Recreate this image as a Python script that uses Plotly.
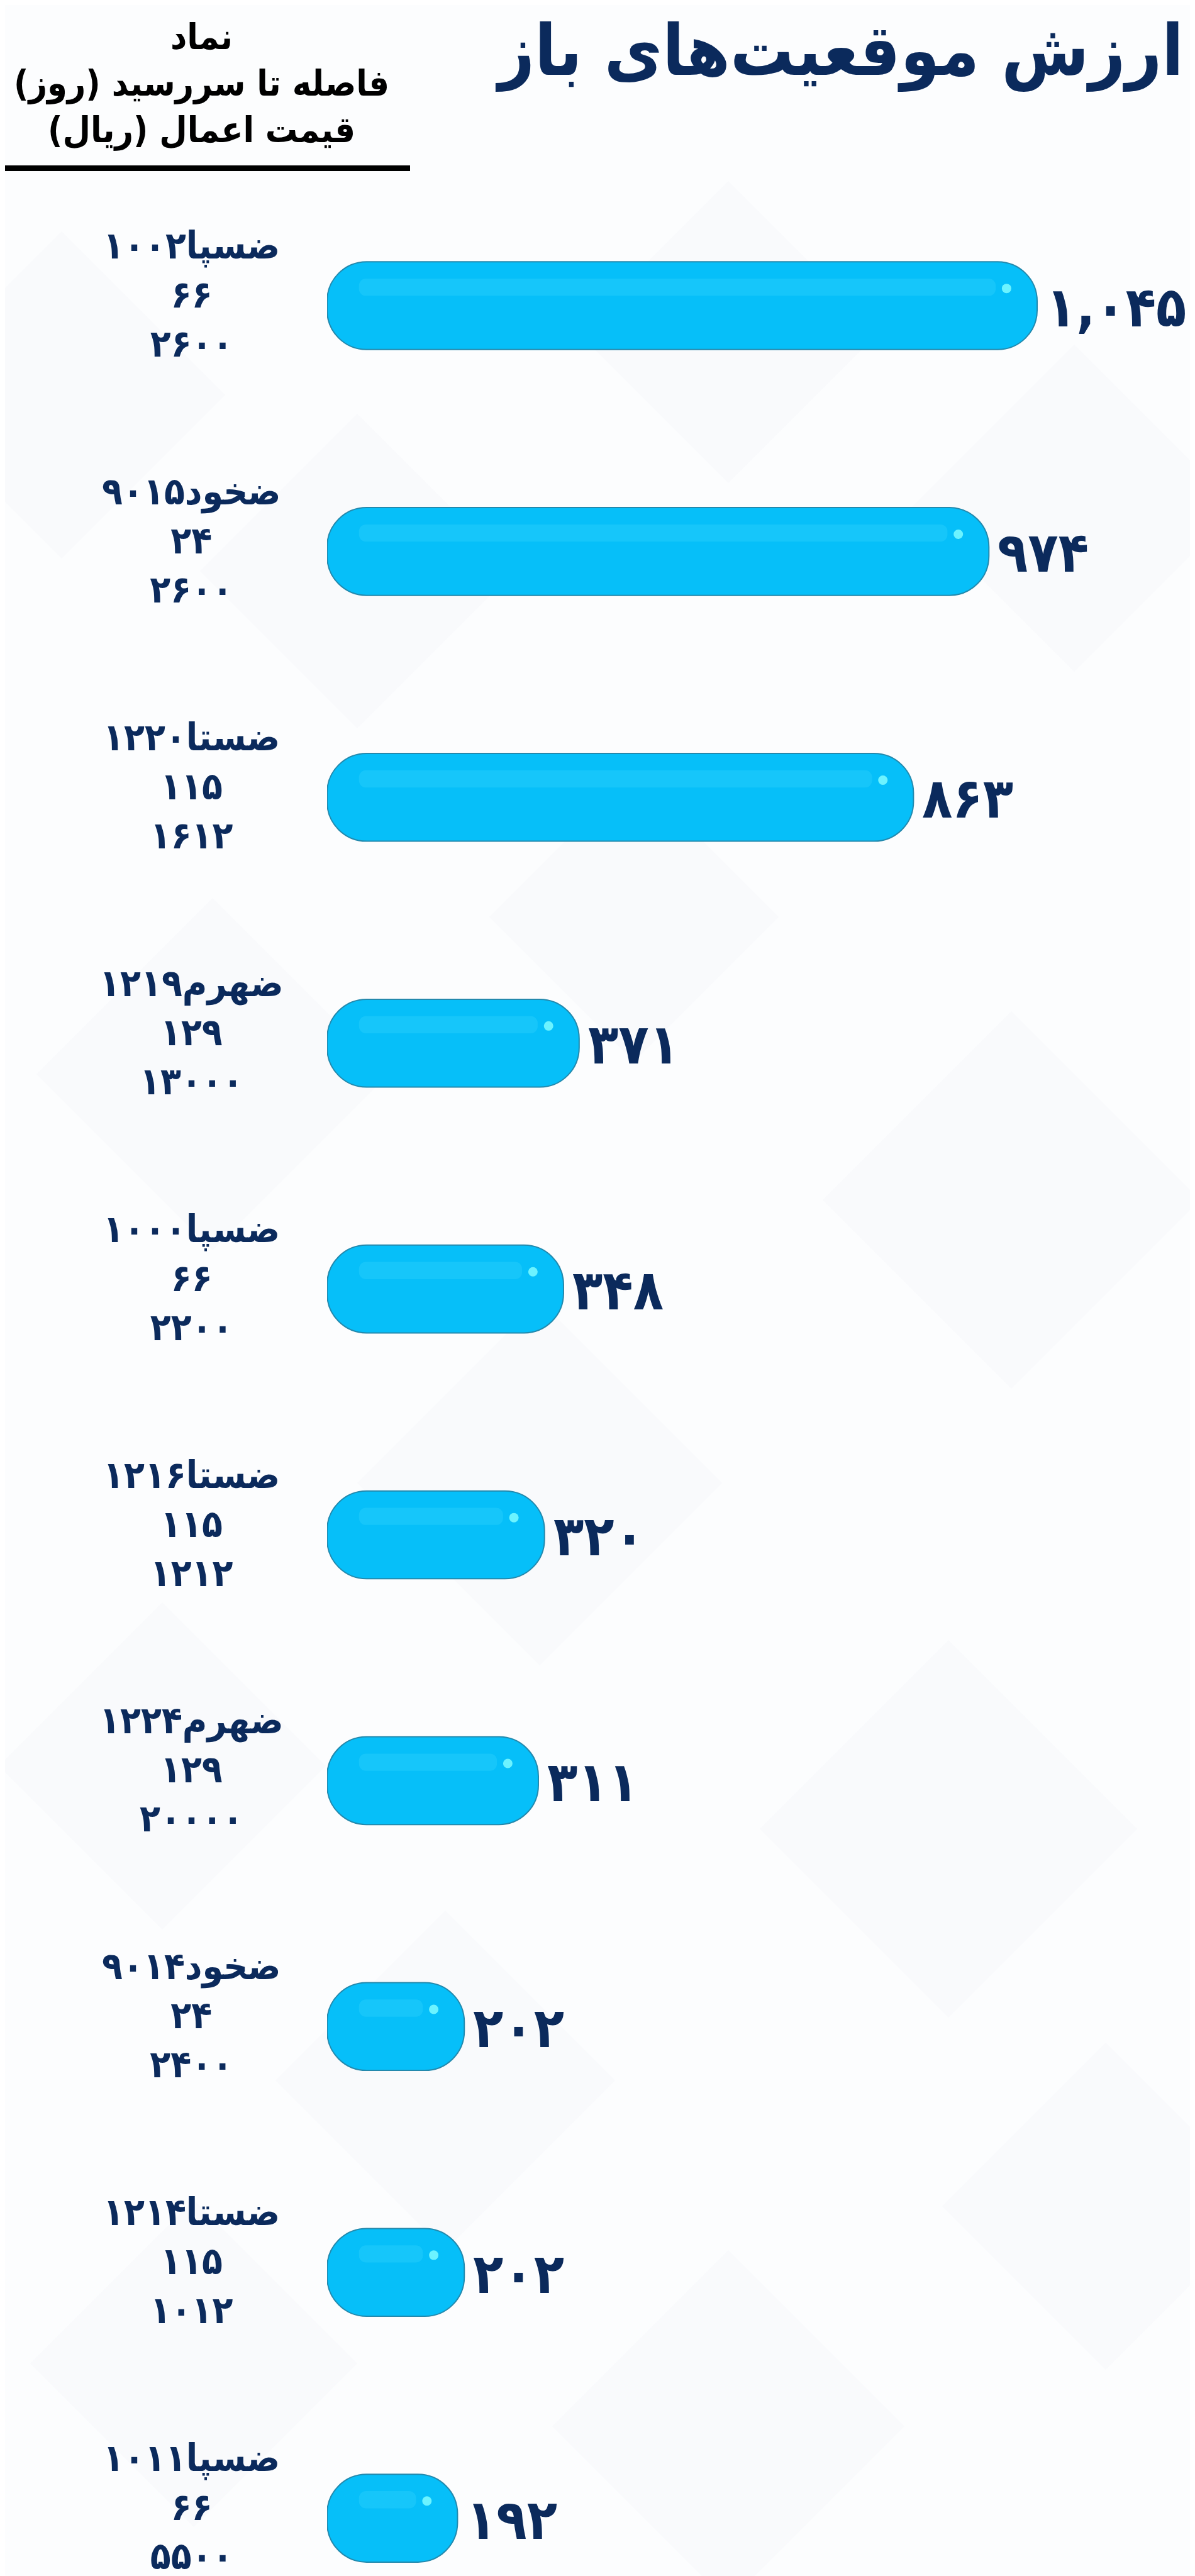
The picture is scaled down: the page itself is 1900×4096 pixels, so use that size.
import plotly.graph_objects as go

# ---------------- data ----------------
tickers = ["ضسپا۱۰۰۲", "ضخود۹۰۱۵", "ضستا۱۲۲۰", "ضهرم۱۲۱۹", "ضسپا۱۰۰۰",
           "ضستا۱۲۱۶", "ضهرم۱۲۲۴", "ضخود۹۰۱۴", "ضستا۱۲۱۴", "ضسپا۱۰۱۱"]
days = ["۶۶", "۲۴", "۱۱۵", "۱۲۹", "۶۶", "۱۱۵", "۱۲۹", "۲۴", "۱۱۵", "۶۶"]
strikes = ["۲۶۰۰", "۲۶۰۰", "۱۶۱۲", "۱۳۰۰۰", "۲۲۰۰", "۱۲۱۲", "۲۰۰۰۰", "۲۴۰۰", "۱۰۱۲", "۵۵۰۰"]
values = [1045, 974, 863, 371, 348, 320, 311, 202, 202, 192]

title_text = "ارزش موقعیت‌های باز"
header_lines = ["نماد", "فاصله تا سررسید (روز)", "قیمت اعمال (ریال)"]

# ---------------- helpers ----------------
FA = str.maketrans("0123456789", "۰۱۲۳۴۵۶۷۸۹")
def fa_num(v):
    return f"{v:,}".translate(FA)

W, H = 1900, 4096
ML = 512
PW = W - ML
PX_PER_UNIT = 1.0804
XMAX = PW / PX_PER_UNIT
SP = 390.9            # px between categories
Y0 = 478              # px centre of first bar
b = -Y0 / SP
a = b + H / SP

NAVY = "#0b2a5c"
FONT = "DejaVu Sans Condensed, DejaVu Sans, sans-serif"
RLM = "\u200f"
BAR_W = 0.357

idx = list(range(len(values)))

fig = go.Figure()
# main pill bars (explicit base -> both ends rounded)
fig.add_trace(go.Bar(
    x=values, y=idx, base=[0] * len(values), orientation="h", width=BAR_W,
    marker=dict(color="#06bff9", line=dict(color="#2389ad", width=2), cornerradius="45%"),
    hoverinfo="skip",
))
# subtle glossy stripe
fig.add_trace(go.Bar(
    x=[v - 47 - 61 for v in values], y=[i - 0.075 for i in idx], base=[47] * len(values),
    orientation="h", width=0.07,
    marker=dict(color="rgba(70,218,255,0.25)", line=dict(width=0), cornerradius="40%"),
    hoverinfo="skip",
))
# highlight spot
fig.add_trace(go.Scatter(
    x=[v - 45 for v in values], y=[i - 0.07 for i in idx], mode="markers",
    marker=dict(size=15, color="rgba(120,248,255,0.9)", line=dict(width=0)),
    hoverinfo="skip",
))

annotations = []
for i in idx:
    annotations.append(dict(
        x=values[i], xref="x", y=i, yref="y", xanchor="left", yanchor="middle",
        xshift=12, yshift=-2, showarrow=False, text=fa_num(values[i]),
        font=dict(family=FONT, size=88, color=NAVY, weight="bold"),
    ))
    annotations.append(dict(
        x=(296 - ML) / PW, xref="paper", y=i, yref="y", yshift=18,
        xanchor="center", yanchor="middle", align="center", showarrow=False,
        text=f"{tickers[i]}<br>{days[i]}<br>{strikes[i]}",
        font=dict(family=FONT, size=60, color=NAVY, weight="bold"),
    ))
annotations.append(dict(
    x=(312 - ML) / PW, xref="paper", y=1 - 124 / H, yref="paper",
    xanchor="center", yanchor="middle", align="center", showarrow=False,
    text="<br>".join(l + RLM for l in header_lines),
    font=dict(family=FONT, size=57, color="#000000", weight="bold"),
))
annotations.append(dict(
    x=(1876 - ML) / PW, xref="paper", y=1 - 72 / H, yref="paper",
    xanchor="right", yanchor="middle", showarrow=False,
    text=title_text,
    font=dict(family=FONT, size=112, color=NAVY, weight="bold"),
))

def px2p(px, py):
    return (px - ML) / PW, 1 - py / H

shapes = [dict(type="rect", xref="paper", yref="paper",
               x0=-ML / PW, x1=(644 - ML) / PW, y0=1 - 264 / H, y1=1 - 255 / H,
               fillcolor="#000000", line=dict(width=0))]

# faint decorative diamonds in background
diamonds = [(90, 620, 260), (560, 900, 250), (1150, 520, 240), (1700, 800, 260),
            (330, 1700, 280), (1000, 1450, 230), (1600, 1900, 300), (850, 2350, 290),
            (250, 2800, 260), (1500, 2900, 300), (700, 3300, 270), (1750, 3500, 260),
            (300, 3750, 260), (1150, 3850, 280)]
for cx, cy, r in diamonds:
    pts = [px2p(cx, cy - r), px2p(cx + r, cy), px2p(cx, cy + r), px2p(cx - r, cy)]
    path = "M " + " L ".join(f"{x:.5f},{y:.5f}" for x, y in pts) + " Z"
    shapes.append(dict(type="path", xref="paper", yref="paper", path=path,
                       fillcolor="rgba(232,234,244,0.14)", line=dict(width=0),
                       layer="below"))

fig.update_layout(
    width=W, height=H,
    margin=dict(l=ML, r=0, t=0, b=0),
    paper_bgcolor="#fcfdfe", plot_bgcolor="rgba(0,0,0,0)",
    showlegend=False, barmode="overlay",
    xaxis=dict(range=[0, XMAX], visible=False, fixedrange=True),
    yaxis=dict(range=[a, b], visible=False, fixedrange=True),
    annotations=annotations, shapes=shapes,
    font=dict(family=FONT),
)

fig.write_html("out.html")
